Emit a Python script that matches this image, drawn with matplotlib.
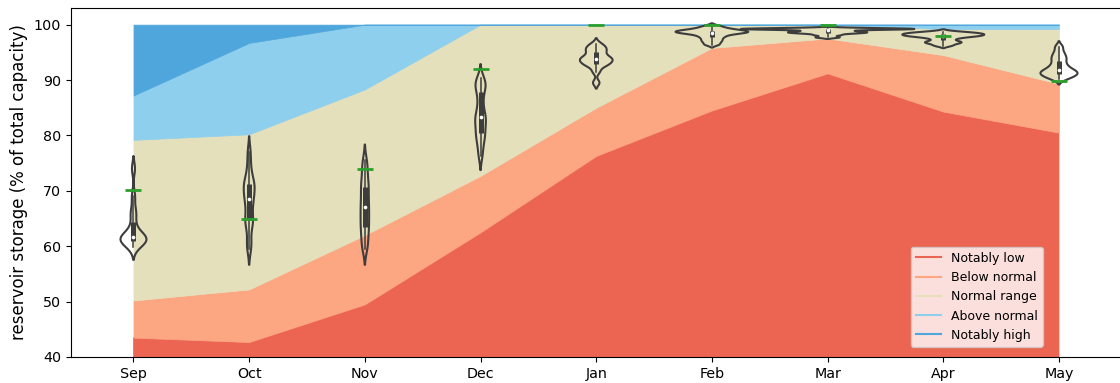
import numpy as np
import matplotlib.pyplot as plt
from matplotlib.lines import Line2D

months = ['Sep', 'Oct', 'Nov', 'Dec', 'Jan', 'Feb', 'Mar', 'Apr', 'May']

# upper edge of each storage band, % of capacity
notably_low = [43.5, 42.7, 49.5, 62.5, 76.3, 84.5, 91.2, 84.3, 80.5]
below_normal = [50.2, 52.2, 62.0, 72.7, 85.0, 95.8, 97.5, 94.5, 89.3]
normal_range = [79.2, 80.2, 88.3, 100.0, 100.0, 100.0, 100.0, 99.2, 99.2]
above_normal = [87.2, 96.7, 100.0, 100.0, 100.0, 100.0, 100.0, 100.0, 100.0]
notably_high = [100.0] * 9

# this season's storage
current = [70.1, 65.0, 74.0, 92.0, 100.0, 99.9, 100.0, 98.0, 89.8]

# storage in past years, per month
sep_hist = [59.8, 60.4, 60.7, 60.9, 61.1, 61.3, 61.5, 61.7, 61.9, 62.2, 63.5, 65.3, 66.5, 69.0, 74.0]
oct_hist = [59.5, 61.0, 63.5, 64.5, 65.0, 66.5, 68.0, 68.6, 69.5, 70.5, 71.0, 71.5, 72.5, 74.5, 77.0]
nov_hist = [59.5, 60.5, 62.0, 63.0, 64.0, 65.0, 66.0, 67.0, 68.0, 69.0, 70.5, 71.0, 72.5, 74.0, 75.5]
dec_hist = [76.3, 78.0, 79.5, 80.0, 81.0, 82.0, 82.8, 83.3, 84.0, 85.5, 87.0, 88.5, 89.0, 89.5, 90.3]
jan_hist = [89.5, 91.5, 92.5, 92.8, 93.0, 93.4, 93.6, 93.8, 94.0, 94.3, 94.8, 95.3, 95.6, 96.0, 96.5]
feb_hist = [96.4, 96.9, 97.3, 97.7, 98.0, 98.3, 98.45, 98.55, 98.65, 98.75, 98.85, 98.95, 99.1, 99.35, 99.7]
mar_hist = [97.7, 98.1, 98.4, 98.5, 98.6, 98.7, 98.8, 99.1, 99.15, 99.2, 99.2, 99.2, 99.25, 99.3, 99.3]
apr_hist = [96.2, 96.6, 96.8, 97.0, 97.4, 97.7, 97.85, 97.95, 98.05, 98.15, 98.25, 98.35, 98.45, 98.55, 98.7]
may_hist = [90.2, 90.5, 90.8, 91.0, 91.2, 91.4, 91.6, 91.8, 92.2, 92.6, 93.2, 93.8, 94.3, 95.0, 96.0]
history = [sep_hist, oct_hist, nov_hist, dec_hist, jan_hist, feb_hist, mar_hist, apr_hist, may_hist]

band_labels = ['Notably low', 'Below normal', 'Normal range', 'Above normal', 'Notably high']
band_colors = ['#ec6553', '#fca682', '#e4e0bc', '#8ecfee', '#4ea6dc']
gray = '#3d3d3d'


def kde(data, adjust=0.5, cut=2, gridsize=200):
    data = np.asarray(data, dtype=float)
    bw = adjust * data.std(ddof=1) * len(data) ** (-1 / 5)
    support = np.linspace(data.min() - cut * bw, data.max() + cut * bw, gridsize)
    dens = np.exp(-0.5 * ((support[:, None] - data[None, :]) / bw) ** 2).sum(axis=1)
    dens /= len(data) * bw * np.sqrt(2 * np.pi)
    return support, dens


fig = plt.figure(figsize=(11.2, 3.83), dpi=100)
ax = fig.add_axes([0.0634, 0.0679, 0.9379, 0.9112])

x = np.arange(len(months))
bounds = [np.zeros(len(months)), notably_low, below_normal, normal_range, above_normal, notably_high]
for i in range(5):
    ax.fill_between(x, bounds[i], bounds[i + 1], color=band_colors[i], lw=0.5, zorder=1)

# violins, area-normalised so every month has the same area
kdes = [kde(h) for h in history]
peak = max(d.max() for _, d in kdes)
max_half_width = 0.75
for i, (support, dens) in enumerate(kdes):
    hw = dens / peak * max_half_width
    ax.fill_betweenx(support, i - hw, i + hw, facecolor='none', edgecolor=gray, lw=1.5, zorder=3)
    data = np.asarray(history[i])
    q25, q50, q75 = np.percentile(data, [25, 50, 75])
    lim = 1.5 * (q75 - q25)
    lo = data[data >= q25 - lim].min()
    hi = data[data <= q75 + lim].max()
    ax.plot([i, i], [lo, hi], color=gray, lw=1.1, zorder=4)
    ax.plot([i, i], [q25, q75], color=gray, lw=3.6, solid_capstyle='butt', zorder=4)
    ax.scatter([i], [q50], s=7, color='white', zorder=5, lw=0)

ax.plot(x, current, ls='none', marker='_', ms=12, mew=2, color='#2ca02c', zorder=6)

ax.set_xlim(-0.54, 8.54)
ax.set_ylim(40, 103)
ax.set_xticks(x)
ax.set_xticklabels(months)
ax.set_yticks(np.arange(40, 101, 10))
ax.tick_params(labelsize=10.3)
ax.set_ylabel('reservoir storage (% of total capacity)', fontsize=12)

handles = [Line2D([0], [0], color=c, lw=1.5) for c in band_colors]
ax.legend(handles, band_labels, loc='lower right', bbox_to_anchor=(0.925, 0.029),
          borderaxespad=0, fontsize=9)

fig.savefig('out.png', dpi=100)
